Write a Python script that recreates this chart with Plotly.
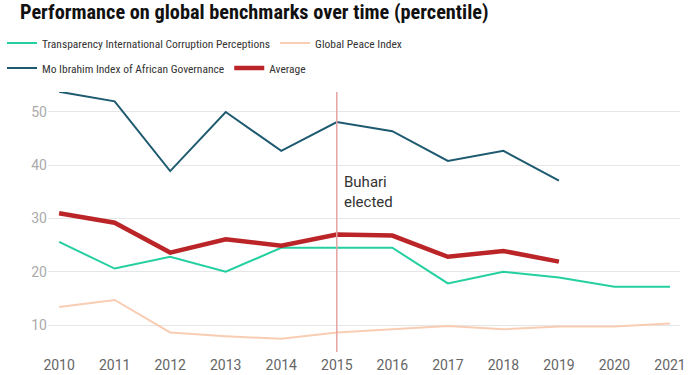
import plotly.graph_objects as go

years = list(range(2010, 2022))
transparency = [25.6, 20.6, 22.8, 20.0, 24.5, 24.5, 24.5, 17.8, 20.0, 18.9, 17.2, 17.2]
peace = [13.4, 14.7, 8.6, 7.9, 7.4, 8.6, 9.2, 9.8, 9.2, 9.7, 9.7, 10.3]
ibrahim = [53.8, 52.0, 38.9, 50.0, 42.7, 48.1, 46.4, 40.8, 42.7, 37.1]
average = [31.0, 29.2, 23.6, 26.1, 24.9, 27.0, 26.8, 22.8, 23.9, 21.9]

COND = "Roboto Condensed, Roboto, sans-serif"
REG = "Roboto, sans-serif"

fig = go.Figure()
fig.add_trace(go.Scatter(x=years, y=transparency, mode="lines", name="Transparency International Corruption Perceptions",
                         line=dict(color="#24cfa0", width=2), legend="legend"))
fig.add_trace(go.Scatter(x=years, y=peace, mode="lines", name="Global Peace Index",
                         line=dict(color="#f8cdb3", width=2), legend="legend"))
fig.add_trace(go.Scatter(x=years[:len(ibrahim)], y=ibrahim, mode="lines", name="Mo Ibrahim Index of African Governance",
                         line=dict(color="#1d5a70", width=2), legend="legend2"))
fig.add_trace(go.Scatter(x=years[:len(average)], y=average, mode="lines", name="Average",
                         line=dict(color="#bb2528", width=4.5), legend="legend2"))

fig.add_shape(type="line", x0=2015, x1=2015, y0=0, y1=1, yref="paper", xref="x",
              line=dict(color="#e5a3a3", width=1.5))
fig.add_annotation(x=2015, y=35.0, xref="x", yref="y", text="Buhari<br>elected", showarrow=False,
                   xanchor="left", xshift=5, align="left", font=dict(family=REG, size=15, color="#333"))

legend_common = dict(orientation="h", xref="container", yref="container", xanchor="left", yanchor="middle",
                     font=dict(family=COND, size=11.5, color="#333"), bgcolor="rgba(0,0,0,0)", itemclick=False)
fig.update_layout(
    width=700, height=375,
    margin=dict(l=48, r=20, t=92, b=23, autoexpand=False),
    plot_bgcolor="white", paper_bgcolor="white",
    title=dict(text="<b>Performance on global benchmarks over time (percentile)</b>", x=20/700, xanchor="left",
               xref="container", yref="container", y=1 - 12/375, yanchor="middle",
               font=dict(family=COND, size=20.3, color="#111")),
    legend=dict(x=2/700, y=1 - 43/375, **legend_common),
    legend2=dict(x=2/700, y=1 - 68/375, **legend_common),
    xaxis=dict(range=[2009.8, 2021.18], tickmode="array", tickvals=years, ticktext=[str(y) for y in years],
               showgrid=False, zeroline=False, showline=False, ticks="", automargin=False, ticklabelstandoff=3,
               tickfont=dict(family=REG, size=14, color="#666")),
    yaxis=dict(range=[4.93, 53.75], tickvals=[10, 20, 30, 40, 50], showgrid=True, gridcolor="#e6e6e6",
               gridwidth=1, zeroline=False, showline=False, ticks="", automargin=False,
               tickfont=dict(family=REG, size=14, color="#aaa")),
)
fig.write_html("out.html", config={"displayModeBar": False},
               post_script="document.body.style.margin='0';document.body.style.overflow='hidden';")
